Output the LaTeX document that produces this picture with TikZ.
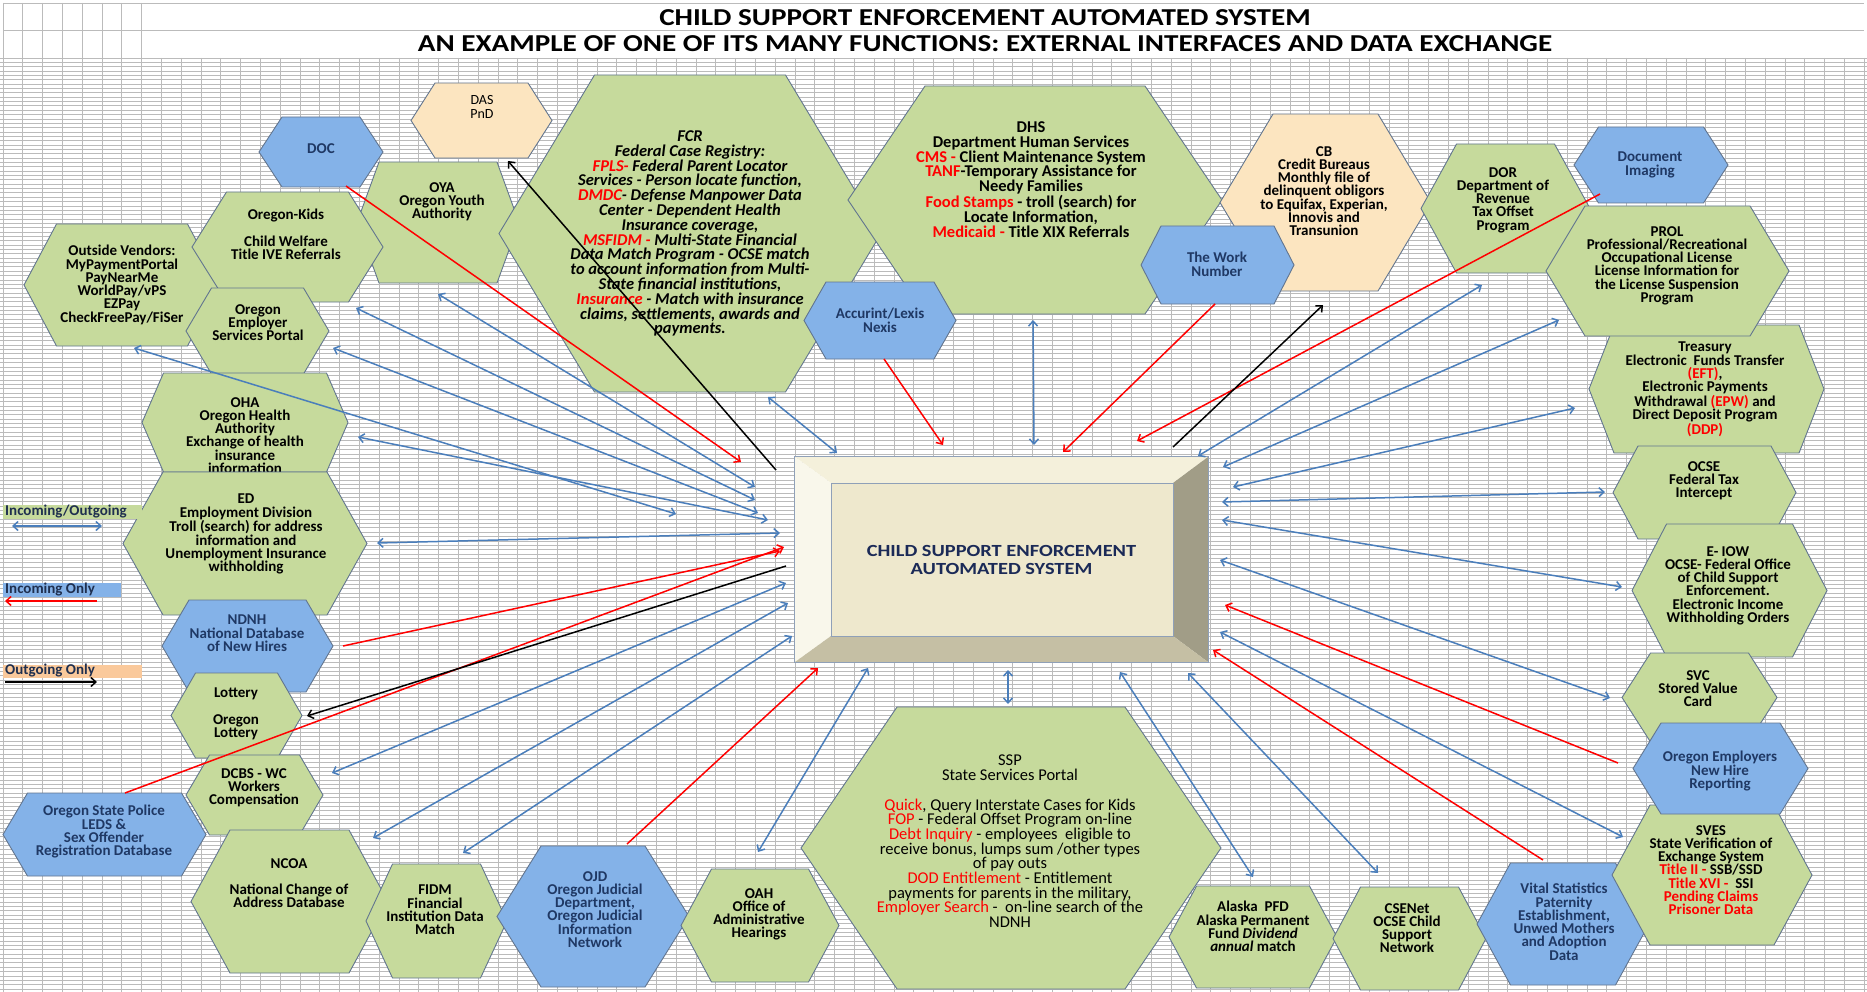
\documentclass[tikz,border=0pt]{standalone}
\usepackage{fontspec}
\setmainfont{Carlito}
\newfontfamily\widefont{Carlito}[FakeStretch=1.2]
\usetikzlibrary{arrows.meta}

\definecolor{hexgreen}{HTML}{C6DA9C}
\definecolor{hexblue}{HTML}{84B2E8}
\definecolor{hexpeach}{HTML}{FCE5C0}
\definecolor{hexedge}{HTML}{62758F}
\definecolor{navy}{HTML}{1F3864}
\definecolor{linkblue}{HTML}{4A7EBB}
\definecolor{gridgray}{HTML}{BBBBBB}
\definecolor{keypeach}{HTML}{FAC99B}
\definecolor{keytext}{HTML}{1F2F4F}
\definecolor{boxface}{HTML}{EEE8CD}
\definecolor{boxtop}{HTML}{F4F0DB}
\definecolor{boxleft}{HTML}{F9F7EB}
\definecolor{boxright}{HTML}{A19D87}
\definecolor{boxbottom}{HTML}{C5BFA4}
\definecolor{boxline}{HTML}{8FA0B8}
\definecolor{boxtext}{HTML}{1B2A57}

\newcommand\hxfont{\fontsize{15}{13.3}\selectfont\bfseries}
\newcommand\hxthin{\fontsize{14}{14}\selectfont}
\newcommand\dhsfont{\fontsize{16.5}{14.8}\selectfont\bfseries}
\newcommand\fcrfont{\fontsize{16.5}{14.8}\selectfont\bfseries\itshape}
\newcommand\sspfont{\fontsize{16.5}{14.7}\selectfont}
\newcommand\rd[1]{\textcolor{red}{#1}}

% flat-topped hexagon: name, centre x, centre y, half width to the side
% points, half height, half length of the top edge, style
\newcommand\hexshape[7]{%
  \path[#7] ({#2-#4},#3) -- ({#2-#6},{#3-#5}) -- ({#2+#6},{#3-#5}) -- ({#2+#4},#3)
    -- ({#2+#6},{#3+#5}) -- ({#2-#6},{#3+#5}) -- cycle;
  \node[inner sep=0pt, minimum width={2*#4pt}, minimum height={2*#5pt}] (#1) at (#2,#3) {};
}

\begin{document}
\begin{tikzpicture}[x=1pt, y=-1pt,
  >={Straight Barb[length=5pt,width=9pt]},
  gridline/.style={draw=gridgray, line width=0.7pt},
  greenhex/.style={fill=hexgreen, draw=hexedge, line width=0.9pt},
  bluehex/.style={fill=hexblue, draw=hexedge, line width=0.9pt},
  peachhex/.style={fill=hexpeach, draw=hexedge, line width=0.9pt},
  hextext/.style={align=center, inner sep=0pt, anchor=north, font=\hxfont, text=black},
  navytext/.style={hextext, text=navy},
  linkboth/.style={draw=linkblue, line width=1.5pt, <->},
  linkin/.style={draw=red, line width=1.5pt, ->},
  linkout/.style={draw=black, line width=1.5pt, ->},
  keytextstyle/.style={anchor=west, inner sep=0pt, font=\hxfont, text=keytext}]

\useasboundingbox (0,0) rectangle (1867,992);
\fill[white] (0,0) rectangle (1867,992);

% worksheet grid
\foreach \k in {0,...,214} \draw[gridline] (0,{58+4.35*\k}) -- (1867,{58+4.35*\k});
\foreach \k in {0,...,94} \draw[gridline] ({3+19.8*\k},58) -- ({3+19.8*\k},992);
\foreach \k in {0,...,7} \draw[gridline] ({3+19.8*\k},3) -- ({3+19.8*\k},58);
\draw[gridline] (3,3) -- (1864,3);
\draw[gridline] (3,30.5) -- (1864,30.5);

% heading rows
\node[font={\widefont\bfseries\fontsize{24.3}{26}\selectfont}] (title1) at (985,18)
  {CHILD SUPPORT ENFORCEMENT AUTOMATED SYSTEM};
\node[font={\widefont\bfseries\fontsize{24.3}{26}\selectfont}] (title2) at (985,44)
  {AN EXAMPLE OF ONE OF ITS MANY FUNCTIONS: EXTERNAL INTERFACES AND DATA EXCHANGE};

% ---------- upper row ----------
\hexshape{das}{481.5}{120.5}{70.5}{37.5}{46.5}{peachhex}
\node[hextext, font=\hxthin] (das-t) at (482,95) {DAS\\PnD};

\hexshape{doc}{321}{152}{62}{35}{39}{bluehex}
\node[navytext] (doc-t) at (321,143) {DOC};

\hexshape{oya}{438}{222.5}{81}{60.5}{59}{greenhex}
\node[hextext] (oya-t) at (442,182) {OYA\\Oregon Youth\\Authority};

\hexshape{fcr}{690}{233.5}{191}{158.5}{95.5}{greenhex}
\node[hextext, font=\fcrfont] (fcr-t) at (690,130.5) {FCR\\Federal Case Registry:\\
  \rd{FPLS-} Federal Parent Locator\\Services - Person locate function,\\
  \rd{DMDC}- Defense Manpower Data\\Center - Dependent Health\\Insurance coverage,\\
  \rd{MSFIDM -} Multi-State Financial\\Data Match Program - OCSE match\\
  to account information from Multi-\\State financial institutions,\\
  \rd{Insurance} - Match with insurance\\claims, settlements, awards and\\payments.};

\hexshape{dhs}{1035}{200}{187}{114}{110}{greenhex}
\node[hextext, font=\dhsfont] (dhs-t) at (1031,121.5) {DHS\\Department Human Services\\
  \rd{CMS -} Client Maintenance System\\\rd{TANF}-Temporary Assistance for\\Needy Families\\
  \rd{Food Stamps} - troll (search) for\\Locate Information,\\\rd{Medicaid -} Title XIX Referrals};

\hexshape{acc}{880}{320.5}{76}{38.5}{54}{bluehex}
\node[navytext] (acc-t) at (880,308) {Accurint/Lexis\\Nexis};

\hexshape{cb}{1325.5}{202.5}{105.5}{88.5}{52.5}{peachhex}
\node[hextext] (cb-t) at (1324,146) {CB\\Credit Bureaus\\Monthly file of\\delinquent obligors\\
  to Equifax, Experian,\\Innovis and\\Transunion};

\hexshape{wn}{1217.5}{265}{76.5}{39}{56.5}{bluehex}
\node[navytext] (wn-t) at (1217,252) {The Work\\Number};

\hexshape{dor}{1505.5}{208.5}{84.5}{64.5}{49}{greenhex}
\node[hextext] (dor-t) at (1503,167) {DOR\\Department of\\Revenue\\Tax Offset\\Program};

\hexshape{dimg}{1651}{165}{77}{38}{52.5}{bluehex}
\node[navytext] (dimg-t) at (1650,152) {Document\\Imaging};

% ---------- right column ----------
\hexshape{trs}{1706.5}{389}{117.5}{64}{92.5}{greenhex}
\node[hextext] (trs-t) at (1705,342) {Treasury\\Electronic\ \ Funds Transfer\\\rd{(EFT)},\\
  Electronic Payments\\Withdrawal \rd{(EPW)} and\\Direct Deposit Program\\\rd{(DDP)}};

\hexshape{prol}{1667.5}{271}{121.5}{65}{82.5}{greenhex}
\node[hextext] (prol-t) at (1667,226) {PROL\\Professional/Recreational\\Occupational License\\
  License Information for\\the License Suspension\\Program};

\hexshape{ocse}{1704.5}{492.5}{91.5}{46.5}{66.5}{greenhex}
\node[hextext] (ocse-t) at (1704,461) {OCSE\\Federal Tax\\Intercept};

\hexshape{eiow}{1729.5}{590.5}{97.5}{66.5}{63}{greenhex}
\node[hextext] (eiow-t) at (1728,546) {E- IOW\\OCSE- Federal Office\\of Child Support\\
  Enforcement.\\Electronic Income\\Withholding Orders};

\hexshape{svc}{1699.5}{697.5}{77.5}{44.5}{49}{greenhex}
\node[hextext] (svc-t) at (1698,670) {SVC\\Stored Value\\Card};

% ---------- left column ----------
\hexshape{vend}{122}{285}{98}{61}{65.5}{greenhex}
\node[hextext] (vend-t) at (122,245) {Outside Vendors:\\MyPaymentPortal\\PayNearMe\\
  WorldPay/vPS\\EZPay\\CheckFreePay/FiSer};

\hexshape{kids}{287.5}{247}{95.5}{55}{61}{greenhex}
\node[hextext] (kids-t) at (286,209) {Oregon-Kids\\[13.3pt]Child Welfare\\Title IVE Referrals};

\hexshape{oes}{257.5}{331}{71.5}{43}{46}{greenhex}
\node[hextext] (oes-t) at (258,304) {Oregon\\Employer\\Services Portal};

\hexshape{oha}{245}{422.5}{103}{49.5}{81.5}{greenhex}
\node[hextext] (oha-t) at (245,397) {OHA\\Oregon Health\\Authority\\Exchange of health\\
  insurance\\information};

\hexshape{ed}{245}{543.5}{122}{71.5}{82}{greenhex}
\node[hextext] (ed-t) at (246,494) {ED\\Employment Division\\Troll (search) for address\\
  information and\\Unemployment Insurance\\withholding};

\hexshape{ndnh}{247.5}{646}{85.5}{46}{58.5}{bluehex}
\node[navytext] (ndnh-t) at (247,615) {NDNH\\National Database\\of New Hires};

\hexshape{lot}{236.5}{715.5}{65.5}{42.5}{41}{greenhex}
\node[hextext] (lot-t) at (236,688) {Lottery\\[13.3pt]Oregon\\Lottery};

\hexshape{osp}{104.5}{834.5}{101.5}{41.5}{77}{bluehex}
\node[navytext] (osp-t) at (104,805) {Oregon State Police\\LEDS \&\\Sex Offender\\
  Registration Database};

\hexshape{dcbs}{254.5}{795}{68.5}{40}{45}{greenhex}
\node[hextext] (dcbs-t) at (254,768) {DCBS - WC\\Workers\\Compensation};

% ---------- lower row ----------
\hexshape{ncoa}{289.5}{901.5}{98.5}{71.5}{59.5}{greenhex}
\node[hextext] (ncoa-t) at (289,858) {NCOA\\[13.3pt]National Change of\\Address Database};

\hexshape{fidm}{436.5}{921}{70.5}{57}{44}{greenhex}
\node[hextext] (fidm-t) at (435,885) {FIDM\\Financial\\Institution Data\\Match};

\hexshape{ojd}{593}{916.5}{96}{70.5}{52}{bluehex}
\node[navytext] (ojd-t) at (595,871) {OJD\\Oregon Judicial\\Department,\\Oregon Judicial\\
  Information\\Network};

\hexshape{oah}{760}{925.5}{79}{56.5}{48.5}{greenhex}
\node[hextext] (oah-t) at (759,888) {OAH\\Office of\\Administrative\\Hearings};

\hexshape{ssp}{1011}{848}{210}{141}{114}{greenhex}
\node[hextext, font=\sspfont] (ssp-t) at (1010,755) {SSP\\State Services Portal\\[14.7pt]
  \rd{Quick}, Query Interstate Cases for Kids\\\rd{FOP} - Federal Offset Program on-line\\
  \rd{Debt Inquiry} - employees\ \ eligible to\\receive bonus, lumps sum /other types\\
  of pay outs\\\rd{DOD Entitlement} - Entitlement\\payments for parents in the military,\\
  \rd{Employer Search} -\ \ on-line search of the\\NDNH};

\hexshape{pfd}{1253}{937}{84}{51}{56.5}{greenhex}
\node[hextext] (pfd-t) at (1253,901) {Alaska\ \ PFD\\Alaska Permanent\\
  Fund \textit{Dividend}\\\textit{annual} match};

\hexshape{csenet}{1409.5}{938.5}{76.5}{51.5}{49}{greenhex}
\node[hextext] (csenet-t) at (1407,903) {CSENet\\OCSE Child\\Support\\Network};

\hexshape{vital}{1563}{924}{86}{61}{52.5}{bluehex}
\node[navytext] (vital-t) at (1564,883) {Vital Statistics\\Paternity\\Establishment,\\
  Unwed Mothers\\and Adoption\\Data};

\hexshape{sves}{1712}{875}{100}{70}{62}{greenhex}
\node[hextext] (sves-t) at (1711,825) {SVES\\State Verification of\\Exchange System\\
  \rd{Title II -} SSB/SSD\\\rd{Title XVI -}\ \ SSI\\\rd{Pending Claims}\\\rd{Prisoner Data}};

\hexshape{oemp}{1720.5}{768.5}{87.5}{45.5}{59.5}{bluehex}
\node[navytext] (oemp-t) at (1720,751) {Oregon Employers\\New Hire\\Reporting};

% ---------- central system ----------
\node[inner sep=0pt, minimum width=413pt, minimum height=205pt] (csea) at (1001.5,559.5) {};
\coordinate (in-nw) at (831,483);
\coordinate (in-ne) at (1173,483);
\coordinate (in-se) at (1173,636);
\coordinate (in-sw) at (831,636);
\fill[boxtop] (csea.north west) -- (csea.north east) -- (in-ne) -- (in-nw) -- cycle;
\fill[boxleft] (csea.north west) -- (in-nw) -- (in-sw) -- (csea.south west) -- cycle;
\fill[boxright] (csea.north east) -- (csea.south east) -- (in-se) -- (in-ne) -- cycle;
\fill[boxbottom] (csea.south west) -- (in-sw) -- (in-se) -- (csea.south east) -- cycle;
\fill[boxface] (in-nw) rectangle (in-se);
\draw[boxline, line width=0.8pt] (csea.north west) rectangle (csea.south east);
\draw[boxline, line width=0.6pt] (in-nw) rectangle (in-se);
\node[align=center, text=boxtext, font={\widefont\bfseries\fontsize{17}{17.5}\selectfont}]
  (csea-t) at (1001.5,560) {CHILD SUPPORT ENFORCEMENT\\AUTOMATED SYSTEM};

% ---------- connector end points ----------
\coordinate (doc-p) at (346,186);    \coordinate (hub-doc) at (741,462);
\coordinate (das-p) at (508,161);    \coordinate (hub-das) at (776,470);
\coordinate (oya-p) at (438,294);    \coordinate (hub-oya) at (755,487);
\coordinate (kids-p) at (356,308);   \coordinate (hub-kids) at (755,500);
\coordinate (oes-p) at (333,348);    \coordinate (hub-oes) at (758,513);
\coordinate (vend-p) at (134,348);   \coordinate (hub-vend) at (676,514);
\coordinate (oha-p) at (358,437);    \coordinate (hub-oha) at (768,520);
\coordinate (ed-p) at (377,543);     \coordinate (hub-ed) at (780,533);
\coordinate (ndnh-p) at (343,646);   \coordinate (hub-ndnh) at (780,551);
\coordinate (osp-p) at (125,793);    \coordinate (hub-osp) at (784,547);
\coordinate (lot-p) at (307,716);    \coordinate (hub-lot) at (786,566);
\coordinate (dcbs-p) at (332,773);   \coordinate (hub-dcbs) at (786,583);
\coordinate (ncoa-p) at (373,838);   \coordinate (hub-ncoa) at (788,603);
\coordinate (fidm-p) at (463,853);   \coordinate (hub-fidm) at (792,636);
\coordinate (ojd-p) at (627,844);    \coordinate (hub-ojd) at (818,668);
\coordinate (oah-p) at (758,852);    \coordinate (hub-oah) at (868,668);
\coordinate (ssp-p) at (1008,704);   \coordinate (hub-ssp) at (1008,670);
\coordinate (pfd-p) at (1253,877);   \coordinate (hub-pfd) at (1120,672);
\coordinate (csenet-p) at (1378,873);\coordinate (hub-csenet) at (1188,673);
\coordinate (vital-p) at (1543,860); \coordinate (hub-vital) at (1213,650);
\coordinate (sves-p) at (1623,837);  \coordinate (hub-sves) at (1220,632);
\coordinate (oemp-p) at (1618,763);  \coordinate (hub-oemp) at (1225,605);
\coordinate (svc-p) at (1610,698);   \coordinate (hub-svc) at (1220,560);
\coordinate (eiow-p) at (1622,587);  \coordinate (hub-eiow) at (1222,520);
\coordinate (ocse-p) at (1605,492);  \coordinate (hub-ocse) at (1222,502);
\coordinate (trs-p) at (1575,408);   \coordinate (hub-trs) at (1233,487);
\coordinate (prol-p) at (1559,320);  \coordinate (hub-prol) at (1223,467);
\coordinate (dor-p) at (1482,285);   \coordinate (hub-dor) at (1198,456);
\coordinate (dimg-p) at (1600,194);  \coordinate (hub-dimg) at (1137,441);
\coordinate (cb-p) at (1323,305);    \coordinate (hub-cb) at (1173,447);
\coordinate (wn-p) at (1215,304);    \coordinate (hub-wn) at (1063,452);
\coordinate (dhs-p) at (1033,320);   \coordinate (hub-dhs) at (1034,445);
\coordinate (acc-p) at (884,359);    \coordinate (hub-acc) at (943,445);
\coordinate (fcr-p) at (768,397);    \coordinate (hub-fcr) at (837,453);

% ---------- connectors ----------
\draw[linkin] (doc-p) -- (hub-doc);
\draw[linkout] (hub-das) -- (das-p);
\draw[linkboth] (oya-p) -- (hub-oya);
\draw[linkboth] (kids-p) -- (hub-kids);
\draw[linkboth] (oes-p) -- (hub-oes);
\draw[linkboth] (vend-p) -- (hub-vend);
\draw[linkboth] (oha-p) -- (hub-oha);
\draw[linkboth] (ed-p) -- (hub-ed);
\draw[linkin] (ndnh-p) -- (hub-ndnh);
\draw[linkin] (osp-p) -- (hub-osp);
\draw[linkout] (hub-lot) -- (lot-p);
\draw[linkboth] (dcbs-p) -- (hub-dcbs);
\draw[linkboth] (ncoa-p) -- (hub-ncoa);
\draw[linkboth] (fidm-p) -- (hub-fidm);
\draw[linkin] (ojd-p) -- (hub-ojd);
\draw[linkboth] (oah-p) -- (hub-oah);
\draw[linkboth] (ssp-p) -- (hub-ssp);
\draw[linkboth] (pfd-p) -- (hub-pfd);
\draw[linkboth] (csenet-p) -- (hub-csenet);
\draw[linkin] (vital-p) -- (hub-vital);
\draw[linkboth] (sves-p) -- (hub-sves);
\draw[linkin] (oemp-p) -- (hub-oemp);
\draw[linkboth] (svc-p) -- (hub-svc);
\draw[linkboth] (eiow-p) -- (hub-eiow);
\draw[linkboth] (ocse-p) -- (hub-ocse);
\draw[linkboth] (trs-p) -- (hub-trs);
\draw[linkboth] (prol-p) -- (hub-prol);
\draw[linkboth] (dor-p) -- (hub-dor);
\draw[linkin] (dimg-p) -- (hub-dimg);
\draw[linkout] (hub-cb) -- (cb-p);
\draw[linkin] (wn-p) -- (hub-wn);
\draw[linkboth] (dhs-p) -- (hub-dhs);
\draw[linkin] (acc-p) -- (hub-acc);
\draw[linkboth] (fcr-p) -- (hub-fcr);

% ---------- key ----------
\fill[hexgreen] (3,505) rectangle (142,519);
\node[keytextstyle] (key-both) at (5,512) {Incoming/Outgoing};
\coordinate (key-both-a) at (12,526);
\coordinate (key-both-b) at (102,526);
\draw[linkboth] (key-both-a) -- (key-both-b);

\fill[hexblue] (3,583) rectangle (121,597);
\node[keytextstyle] (key-in) at (5,590) {Incoming Only};
\coordinate (key-in-a) at (97,601);
\coordinate (key-in-b) at (5,601);
\draw[linkin] (key-in-a) -- (key-in-b);

\fill[keypeach] (3,665) rectangle (142,678);
\node[keytextstyle] (key-out) at (5,671) {Outgoing Only};
\coordinate (key-out-a) at (5,682);
\coordinate (key-out-b) at (97,682);
\draw[linkout] (key-out-a) -- (key-out-b);

\end{tikzpicture}
\end{document}
